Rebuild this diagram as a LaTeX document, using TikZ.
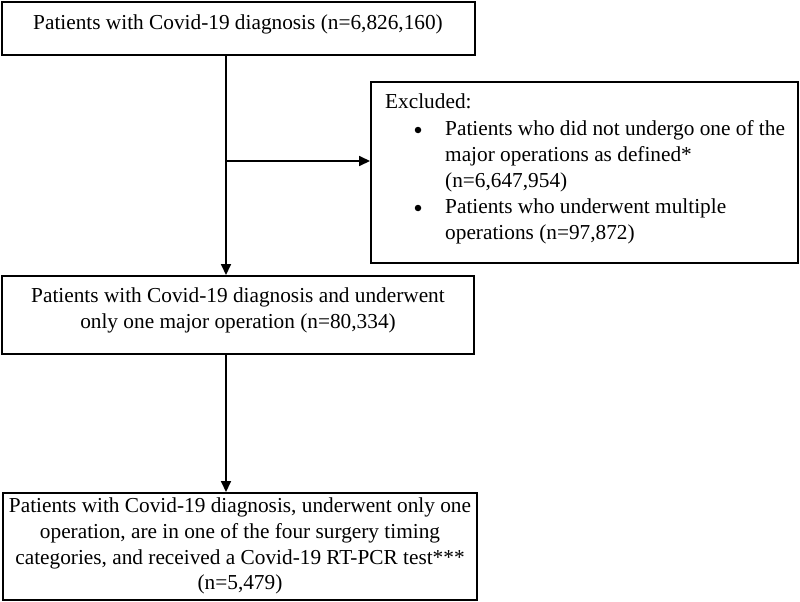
\documentclass[tikz,border=0pt]{standalone}
\usepackage{fontspec}
\setmainfont{Liberation Serif}
\usetikzlibrary{arrows.meta}
\begin{document}
\begin{tikzpicture}[x=1pt,y=-1pt,
  box/.style={draw,line width=1.6pt,inner sep=0pt},
  txt/.style={inner sep=0pt,align=center,font=\fontsize{21.3}{25.9}\selectfont},
  dot/.style={circle,fill,inner sep=0pt,minimum size=6.5pt},
  conn/.style={line width=2.5pt,-{Triangle[length=11pt,width=9.5pt]}}]
\useasboundingbox (0,0) rectangle (800,602);
\node[box,minimum width=473pt,minimum height=53pt] (b1) at (238.5,28.5) {};
\node[txt] (t1) at (238,24.5) {Patients with Covid-19 diagnosis (n=6,826,160)};
\node[box,minimum width=427pt,minimum height=181pt] (b3) at (584.5,172.5) {};
\node[box,minimum width=472pt,minimum height=78pt] (b2) at (238,315) {};
\node[txt] (t2) at (238,310.5) {Patients with Covid-19 diagnosis and underwent\\only one major operation (n=80,334)};
\node[box,minimum width=474pt,minimum height=107pt] (b4) at (240,546.5) {};
\node[txt] (t4) at (240,546) {Patients with Covid-19 diagnosis, underwent only one\\operation, are in one of the four surgery timing\\categories, and received a Covid-19 RT-PCR test***\\(n=5,479)};
\node[txt,align=left,anchor=north west] (t3) at (385,93.5) {Excluded:};
\node[dot] (bu1) at (418,130) {};
\node[txt,align=left,anchor=north west] (t3a) at (445,120.5) {Patients who did not undergo one of the\\major operations as defined*\\(n=6,647,954)};
\node[dot] (bu2) at (418,208) {};
\node[txt,align=left,anchor=north west] (t3b) at (445,198.5) {Patients who underwent multiple\\operations (n=97,872)};
\coordinate (trunk) at (226,161);
\draw[conn] (b1.south -| trunk) -- (b2.north -| trunk);
\draw[conn] (trunk) -- (b3.west |- trunk);
\draw[conn] (b2.south -| trunk) -- (b4.north -| trunk);
\end{tikzpicture}
\end{document}
